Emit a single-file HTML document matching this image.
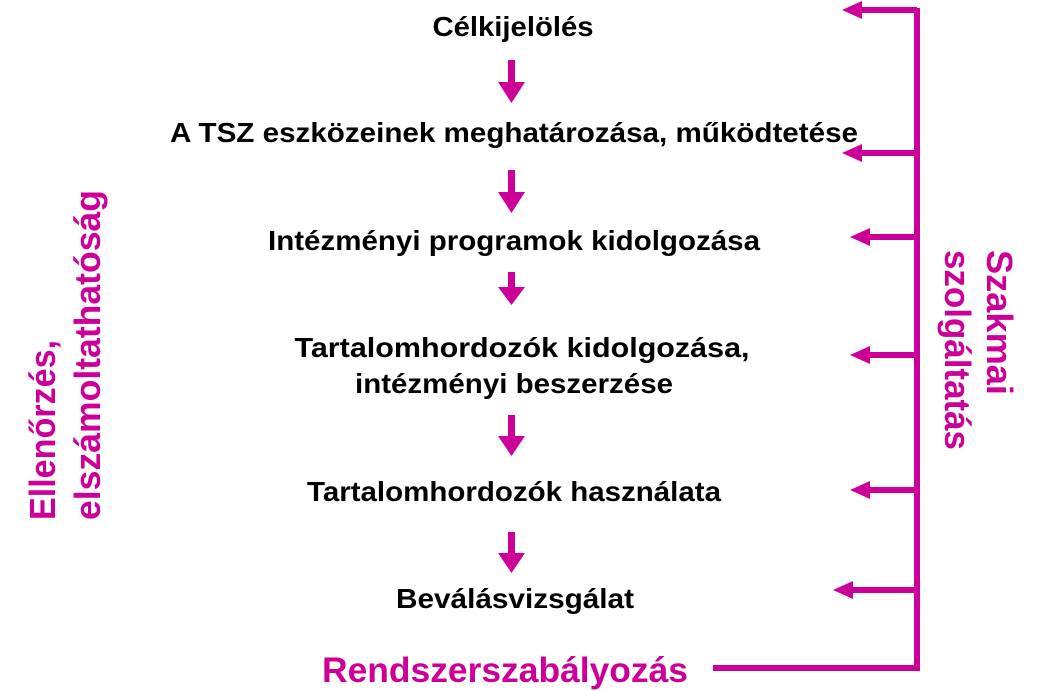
<!DOCTYPE html>
<html><head><meta charset="utf-8"><style>
html,body{margin:0;padding:0;background:#fff;}
svg{display:block}
.t{font-family:"Liberation Sans",Arial,sans-serif;font-weight:bold;font-size:28px;fill:#000;text-anchor:middle}
.m{font-family:"Liberation Sans",Arial,sans-serif;font-weight:bold;fill:#cc0099}
</style></head><body>
<svg width="1041" height="691" viewBox="0 0 1041 691" xmlns="http://www.w3.org/2000/svg">
<g class="t">
<text x="513" y="36" textLength="161" lengthAdjust="spacingAndGlyphs">Célkijelölés</text>
<text x="514" y="142" textLength="688" lengthAdjust="spacingAndGlyphs">A TSZ eszközeinek meghatározása, működtetése</text>
<text x="514" y="250" textLength="492" lengthAdjust="spacingAndGlyphs">Intézményi programok kidolgozása</text>
<text x="522" y="357" textLength="455" lengthAdjust="spacingAndGlyphs">Tartalomhordozók kidolgozása,</text>
<text x="514" y="393" textLength="318" lengthAdjust="spacingAndGlyphs">intézményi beszerzése</text>
<text x="514" y="501" textLength="414" lengthAdjust="spacingAndGlyphs">Tartalomhordozók használata</text>
<text x="515" y="608" textLength="238" lengthAdjust="spacingAndGlyphs">Beválásvizsgálat</text>
</g>
<g fill="#cc0099">
<path d="M508 60h7v22h10l-13.5 21l-13.5-21h10z"/>
<path d="M508 170h7v22h10l-13.5 21l-13.5-21h10z"/>
<path d="M508 272h7v15h10l-13.5 18l-13.5-18h10z"/>
<path d="M508 415h7v21h10l-13.5 20l-13.5-20h10z"/>
<path d="M508 532h7v21h10l-13.5 20l-13.5-20h10z"/>
</g>
<g stroke="#cc0099" stroke-width="6" fill="none">
<path d="M917 8V671M713 668H920"/>
<path d="M860 10H917M860 153H917M868 237H917M868 355H917M868 490H917M851 590H917"/>
</g>
<g fill="#cc0099">
<path d="M842 10l20-9v18z"/>
<path d="M842 153l20-9v18z"/>
<path d="M850 237l20-9v18z"/>
<path d="M850 355l20-9v18z"/>
<path d="M850 490l20-9v18z"/>
<path d="M833 590l20-9v18z"/>
</g>
<text class="m" x="505" y="682" font-size="35" text-anchor="middle" textLength="366" lengthAdjust="spacingAndGlyphs">Rendszerszabályozás</text>
<g class="m" font-size="36" text-anchor="start">
<text transform="translate(55,520) rotate(-90)" textLength="180" lengthAdjust="spacingAndGlyphs">Ellenőrzés,</text>
<text transform="translate(100,520) rotate(-90)" textLength="330" lengthAdjust="spacingAndGlyphs">elszámoltathatóság</text>
</g>
<g class="m" font-size="36" text-anchor="start">
<text transform="translate(987,250) rotate(90)" textLength="145" lengthAdjust="spacingAndGlyphs">Szakmai</text>
<text transform="translate(945,250) rotate(90)" textLength="200" lengthAdjust="spacingAndGlyphs">szolgáltatás</text>
</g>
</svg>
</body></html>
